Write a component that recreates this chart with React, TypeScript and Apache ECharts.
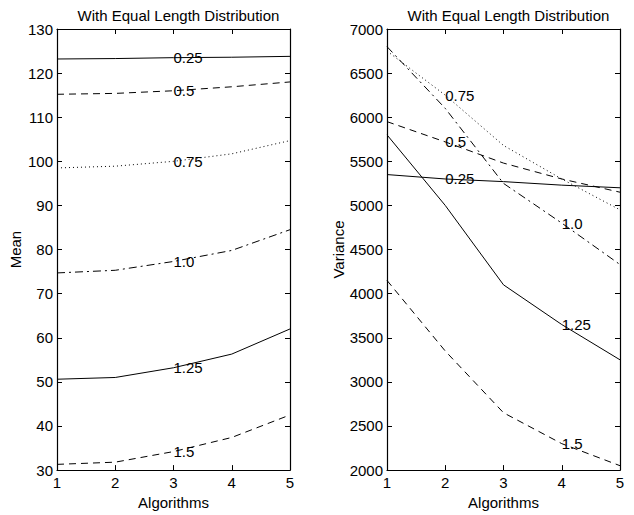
import React, { useEffect, useRef } from "react";
import * as echarts from "echarts";

const algorithms = [1, 2, 3, 4, 5];
const seriesNames = ["0.25", "0.5", "0.75", "1.0", "1.25", "1.5"];

const meanValues: number[][] = [
  [123.2, 123.3, 123.5, 123.6, 123.8],
  [115.2, 115.4, 116.0, 116.9, 118.0],
  [98.5, 98.9, 100.0, 101.7, 104.7],
  [74.7, 75.3, 77.3, 79.8, 84.5],
  [50.6, 51.0, 53.2, 56.3, 62.0],
  [31.3, 31.8, 34.2, 37.4, 42.5],
];

const varianceValues: number[][] = [
  [5350, 5300, 5270, 5230, 5200],
  [5950, 5720, 5480, 5300, 5150],
  [6750, 6250, 5680, 5300, 4950],
  [6800, 6100, 5250, 4800, 4330],
  [5800, 5000, 4100, 3650, 3250],
  [4150, 3350, 2650, 2300, 2050],
];

const meanLabelIndex = [2, 2, 2, 2, 2, 2];
const varianceLabelIndex = [1, 1, 1, 3, 3, 3];

const lineTypes: any[] = ["solid", [7, 5], [1, 3], [8, 4, 2, 4], "solid", [7, 5]];

const FONT = "Liberation Sans, Arial, Helvetica, sans-serif";
const FS = 15;

export default function App() {
  const ref = useRef<HTMLDivElement>(null);
  useEffect(() => {
    if (!ref.current) return;
    const chart = echarts.init(ref.current, null, { renderer: "svg" });

    const grids = [
      { left: 57, right: 344, top: 29, bottom: 42 },
      { left: 387, right: 14, top: 29, bottom: 42 },
    ];

    const xAxes: any[] = [];
    const yAxes: any[] = [];
    const yRanges = [
      { min: 30, max: 130, interval: 10, name: "Mean", gap: 34 },
      { min: 2000, max: 7000, interval: 500, name: "Variance", gap: 41 },
    ];
    const axisLine = { show: true, onZero: false, lineStyle: { color: "#000", width: 1.2 } };
    const tick = { show: true, inside: true, length: 5, lineStyle: { color: "#000" } };
    const labelStyle = { color: "#000", fontSize: FS, fontFamily: FONT };

    for (let g = 0; g < 2; g++) {
      xAxes.push({
        type: "value",
        gridIndex: g,
        min: 1,
        max: 5,
        interval: 1,
        position: "bottom",
        name: "Algorithms",
        nameLocation: "middle",
        nameGap: 21,
        nameTextStyle: { color: "#000", fontSize: FS, fontFamily: FONT },
        axisLine,
        axisTick: tick,
        axisLabel: { ...labelStyle, margin: 5, formatter: (v: number) => String(v) },
        splitLine: { show: false },
      });
      xAxes.push({
        type: "value",
        gridIndex: g,
        min: 1,
        max: 5,
        interval: 1,
        position: "top",
        axisLine,
        axisTick: tick,
        axisLabel: { show: false },
        splitLine: { show: false },
      });
      const yr = yRanges[g];
      yAxes.push({
        type: "value",
        gridIndex: g,
        min: yr.min,
        max: yr.max,
        interval: yr.interval,
        position: "left",
        name: yr.name,
        nameLocation: "middle",
        nameGap: yr.gap,
        nameTextStyle: { color: "#000", fontSize: FS, fontFamily: FONT },
        axisLine,
        axisTick: tick,
        axisLabel: { ...labelStyle, margin: 4, formatter: (v: number) => String(v) },
        splitLine: { show: false },
      });
      yAxes.push({
        type: "value",
        gridIndex: g,
        min: yr.min,
        max: yr.max,
        interval: yr.interval,
        position: "right",
        axisLine,
        axisTick: tick,
        axisLabel: { show: false },
        splitLine: { show: false },
      });
    }

    const makeSeries = (values: number[][], labelIdx: number[], g: number) =>
      values.map((vals, i) => ({
        type: "line",
        name: seriesNames[i],
        xAxisIndex: g * 2,
        yAxisIndex: g * 2,
        symbol: "circle",
        symbolSize: 0,
        showSymbol: true,
        lineStyle: { color: "#000", width: 1, type: lineTypes[i] },
        itemStyle: { color: "#000" },
        emphasis: { disabled: true },
        data: vals.map((v, j) => {
          const item: any = { value: [algorithms[j], v] };
          if (j === labelIdx[i]) {
            item.label = {
              show: true,
              position: "right",
              distance: 0,
              formatter: seriesNames[i],
              color: "#000",
              fontSize: FS,
              fontFamily: FONT,
            };
          }
          return item;
        }),
      }));

    chart.setOption({
      animation: false,
      backgroundColor: "#fff",
      title: [
        {
          text: "With Equal Length Distribution",
          left: 173.5,
          textAlign: "center",
          top: 3,
          textStyle: { color: "#000", fontSize: FS, fontWeight: "normal", fontFamily: FONT },
        },
        {
          text: "With Equal Length Distribution",
          left: 503.5,
          textAlign: "center",
          top: 3,
          textStyle: { color: "#000", fontSize: FS, fontWeight: "normal", fontFamily: FONT },
        },
      ],
      grid: grids,
      xAxis: xAxes,
      yAxis: yAxes,
      series: [
        ...makeSeries(meanValues, meanLabelIndex, 0),
        ...makeSeries(varianceValues, varianceLabelIndex, 1),
      ],
    });
    return () => chart.dispose();
  }, []);

  return (
    <div
      ref={ref}
      style={{ width: 634, height: 515, position: "absolute", left: 0, top: 0 }}
    />
  );
}
